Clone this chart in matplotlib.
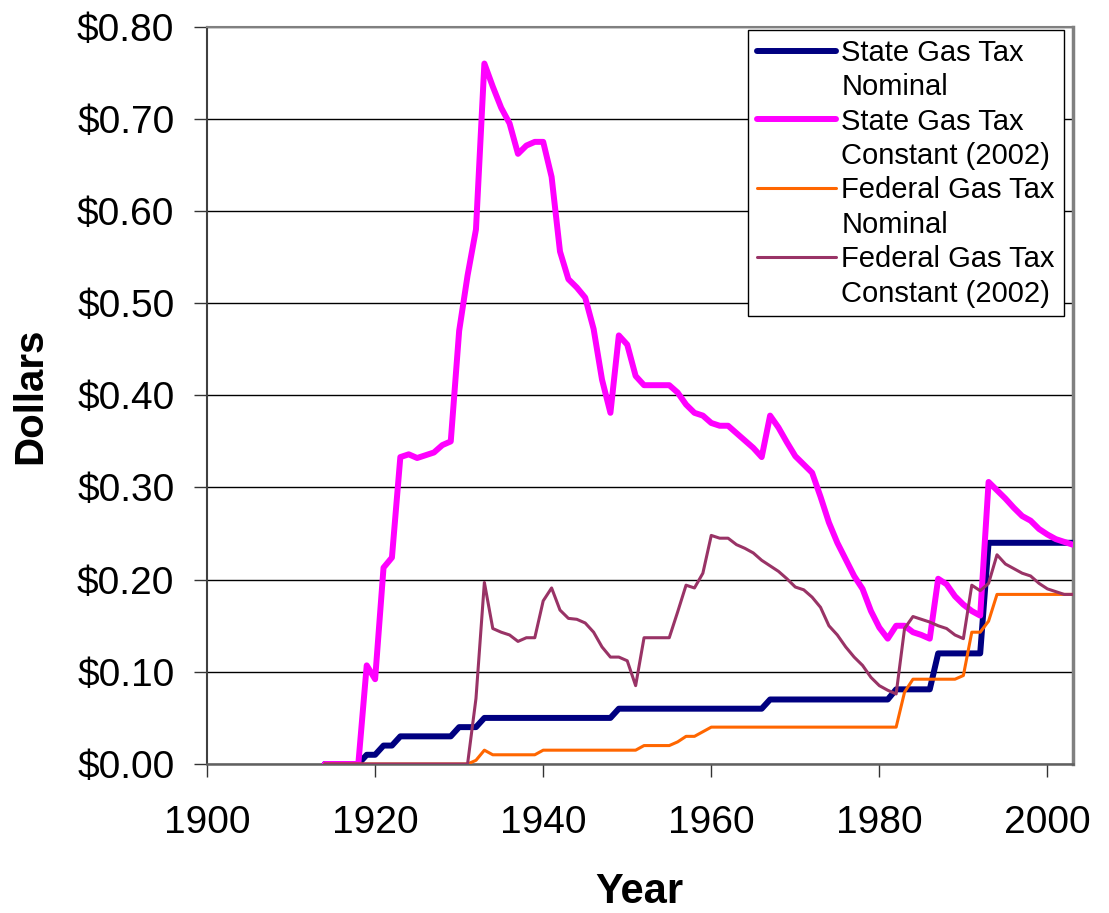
import numpy as np
import matplotlib
matplotlib.use("Agg")
import matplotlib.pyplot as plt
from matplotlib.lines import Line2D

plt.rcParams['font.family'] = ['Liberation Sans', 'DejaVu Sans']

# one value per year, 1914 .. 2003
years = np.arange(1914, 2004)

state_nominal = [
    0.00, 0.00, 0.00, 0.00, 0.00, 0.01,                                # 1914-1919
    0.01, 0.02, 0.02, 0.03, 0.03, 0.03, 0.03, 0.03, 0.03, 0.03,        # 1920s
    0.04, 0.04, 0.04, 0.05, 0.05, 0.05, 0.05, 0.05, 0.05, 0.05,        # 1930s
    0.05, 0.05, 0.05, 0.05, 0.05, 0.05, 0.05, 0.05, 0.05, 0.06,        # 1940s
    0.06, 0.06, 0.06, 0.06, 0.06, 0.06, 0.06, 0.06, 0.06, 0.06,        # 1950s
    0.06, 0.06, 0.06, 0.06, 0.06, 0.06, 0.06, 0.07, 0.07, 0.07,        # 1960s
    0.07, 0.07, 0.07, 0.07, 0.07, 0.07, 0.07, 0.07, 0.07, 0.07,        # 1970s
    0.07, 0.07, 0.081, 0.081, 0.081, 0.081, 0.081, 0.12, 0.12, 0.12,   # 1980s
    0.12, 0.12, 0.12, 0.24, 0.24, 0.24, 0.24, 0.24, 0.24, 0.24,        # 1990s
    0.24, 0.24, 0.24, 0.24,                                            # 2000-2003
]
state_constant = [
    0.000, 0.000, 0.000, 0.000, 0.000, 0.107,
    0.092, 0.213, 0.224, 0.333, 0.336, 0.332, 0.335, 0.338, 0.346, 0.350,
    0.470, 0.530, 0.580, 0.760, 0.735, 0.712, 0.695, 0.662, 0.671, 0.675,
    0.675, 0.637, 0.556, 0.526, 0.517, 0.506, 0.472, 0.417, 0.381, 0.465,
    0.455, 0.421, 0.411, 0.411, 0.411, 0.411, 0.403, 0.390, 0.381, 0.378,
    0.370, 0.367, 0.367, 0.359, 0.351, 0.343, 0.333, 0.378, 0.365, 0.349,
    0.334, 0.325, 0.316, 0.290, 0.262, 0.240, 0.222, 0.204, 0.190, 0.166,
    0.148, 0.136, 0.150, 0.150, 0.143, 0.140, 0.136, 0.201, 0.195, 0.182,
    0.173, 0.166, 0.161, 0.306, 0.297, 0.288, 0.278, 0.269, 0.264, 0.255,
    0.249, 0.244, 0.241, 0.238,
]
federal_nominal = [
    0.000, 0.000, 0.000, 0.000, 0.000, 0.000,
    0.000, 0.000, 0.000, 0.000, 0.000, 0.000, 0.000, 0.000, 0.000, 0.000,
    0.000, 0.000, 0.004, 0.015, 0.010, 0.010, 0.010, 0.010, 0.010, 0.010,
    0.015, 0.015, 0.015, 0.015, 0.015, 0.015, 0.015, 0.015, 0.015, 0.015,
    0.015, 0.015, 0.020, 0.020, 0.020, 0.020, 0.024, 0.030, 0.030, 0.035,
    0.040, 0.040, 0.040, 0.040, 0.040, 0.040, 0.040, 0.040, 0.040, 0.040,
    0.040, 0.040, 0.040, 0.040, 0.040, 0.040, 0.040, 0.040, 0.040, 0.040,
    0.040, 0.040, 0.040, 0.078, 0.092, 0.092, 0.092, 0.092, 0.092, 0.092,
    0.096, 0.143, 0.143, 0.155, 0.184, 0.184, 0.184, 0.184, 0.184, 0.184,
    0.184, 0.184, 0.184, 0.184,
]
federal_constant = [
    0.000, 0.000, 0.000, 0.000, 0.000, 0.000,
    0.000, 0.000, 0.000, 0.000, 0.000, 0.000, 0.000, 0.000, 0.000, 0.000,
    0.000, 0.000, 0.071, 0.197, 0.147, 0.143, 0.140, 0.133, 0.137, 0.137,
    0.177, 0.191, 0.167, 0.158, 0.157, 0.153, 0.143, 0.127, 0.116, 0.116,
    0.112, 0.085, 0.137, 0.137, 0.137, 0.137, 0.165, 0.194, 0.191, 0.207,
    0.248, 0.245, 0.245, 0.238, 0.234, 0.229, 0.221, 0.215, 0.209, 0.201,
    0.192, 0.189, 0.181, 0.170, 0.150, 0.140, 0.127, 0.116, 0.107, 0.094,
    0.085, 0.080, 0.076, 0.147, 0.160, 0.157, 0.154, 0.150, 0.147, 0.140,
    0.136, 0.194, 0.188, 0.196, 0.227, 0.217, 0.212, 0.207, 0.204, 0.196,
    0.190, 0.187, 0.184, 0.184,
]

series = [
    (state_nominal, ["State Gas Tax", "Nominal"], '#000080', 4.3),
    (state_constant, ["State Gas Tax", "Constant (2002)"], '#FF00FF', 4.3),
    (federal_nominal, ["Federal Gas Tax", "Nominal"], '#FF6600', 2.2),
    (federal_constant, ["Federal Gas Tax", "Constant (2002)"], '#993366', 2.2),
]

fig = plt.figure(figsize=(11.09, 9.13), dpi=100)
ax = fig.add_axes([0.1867, 0.1632, 0.7805, 0.8076])

handles, labels = [], []
for vals, lab, color, lw in series:
    line, = ax.plot(years, vals, color=color, linewidth=lw,
                    solid_joinstyle='round', solid_capstyle='round', zorder=3)
    # two-row legend entry: handle on the first row only
    handles.append(line)
    labels.append(lab[0])
    handles.append(Line2D([], [], color='none'))
    labels.append(lab[1])

ax.set_xlim(1900, 2003)
ax.set_ylim(0, 0.80)
ax.set_xticks(np.arange(1900, 2001, 20))
ax.set_yticks(np.arange(0, 0.81, 0.1))
ax.set_yticklabels([f"${v:.2f}" for v in np.arange(0, 0.81, 0.1)])

ax.grid(axis='y', color='black', linewidth=1.0, zorder=1)
ax.set_axisbelow(True)

ax.tick_params(axis='both', direction='out', length=9.5, width=1.0,
               color='#333333', labelsize=28)
ax.tick_params(axis='y', pad=14)
ax.tick_params(axis='x', pad=20)

ax.spines['left'].set_color('#404040')
ax.spines['left'].set_linewidth(1.5)
ax.spines['bottom'].set_color('#606060')
ax.spines['bottom'].set_linewidth(1.8)
ax.spines['top'].set_color('#808080')
ax.spines['top'].set_linewidth(1.5)
ax.spines['right'].set_color('#808080')
ax.spines['right'].set_linewidth(2.5)

ax.set_xlabel("Year", fontsize=30, fontweight='bold', labelpad=22)
ax.set_ylabel("Dollars", fontsize=29, fontweight='bold', labelpad=20)

leg = ax.legend(handles, labels, loc='upper right',
                bbox_to_anchor=(0.9896, 0.9955), borderaxespad=0,
                fontsize=21, handlelength=2.7, handletextpad=0.2,
                labelspacing=0.22, borderpad=0.3, frameon=True,
                fancybox=False, framealpha=1)
leg.get_frame().set_edgecolor('black')
leg.get_frame().set_linewidth(1.0)

fig.savefig("out.png", dpi=100)
